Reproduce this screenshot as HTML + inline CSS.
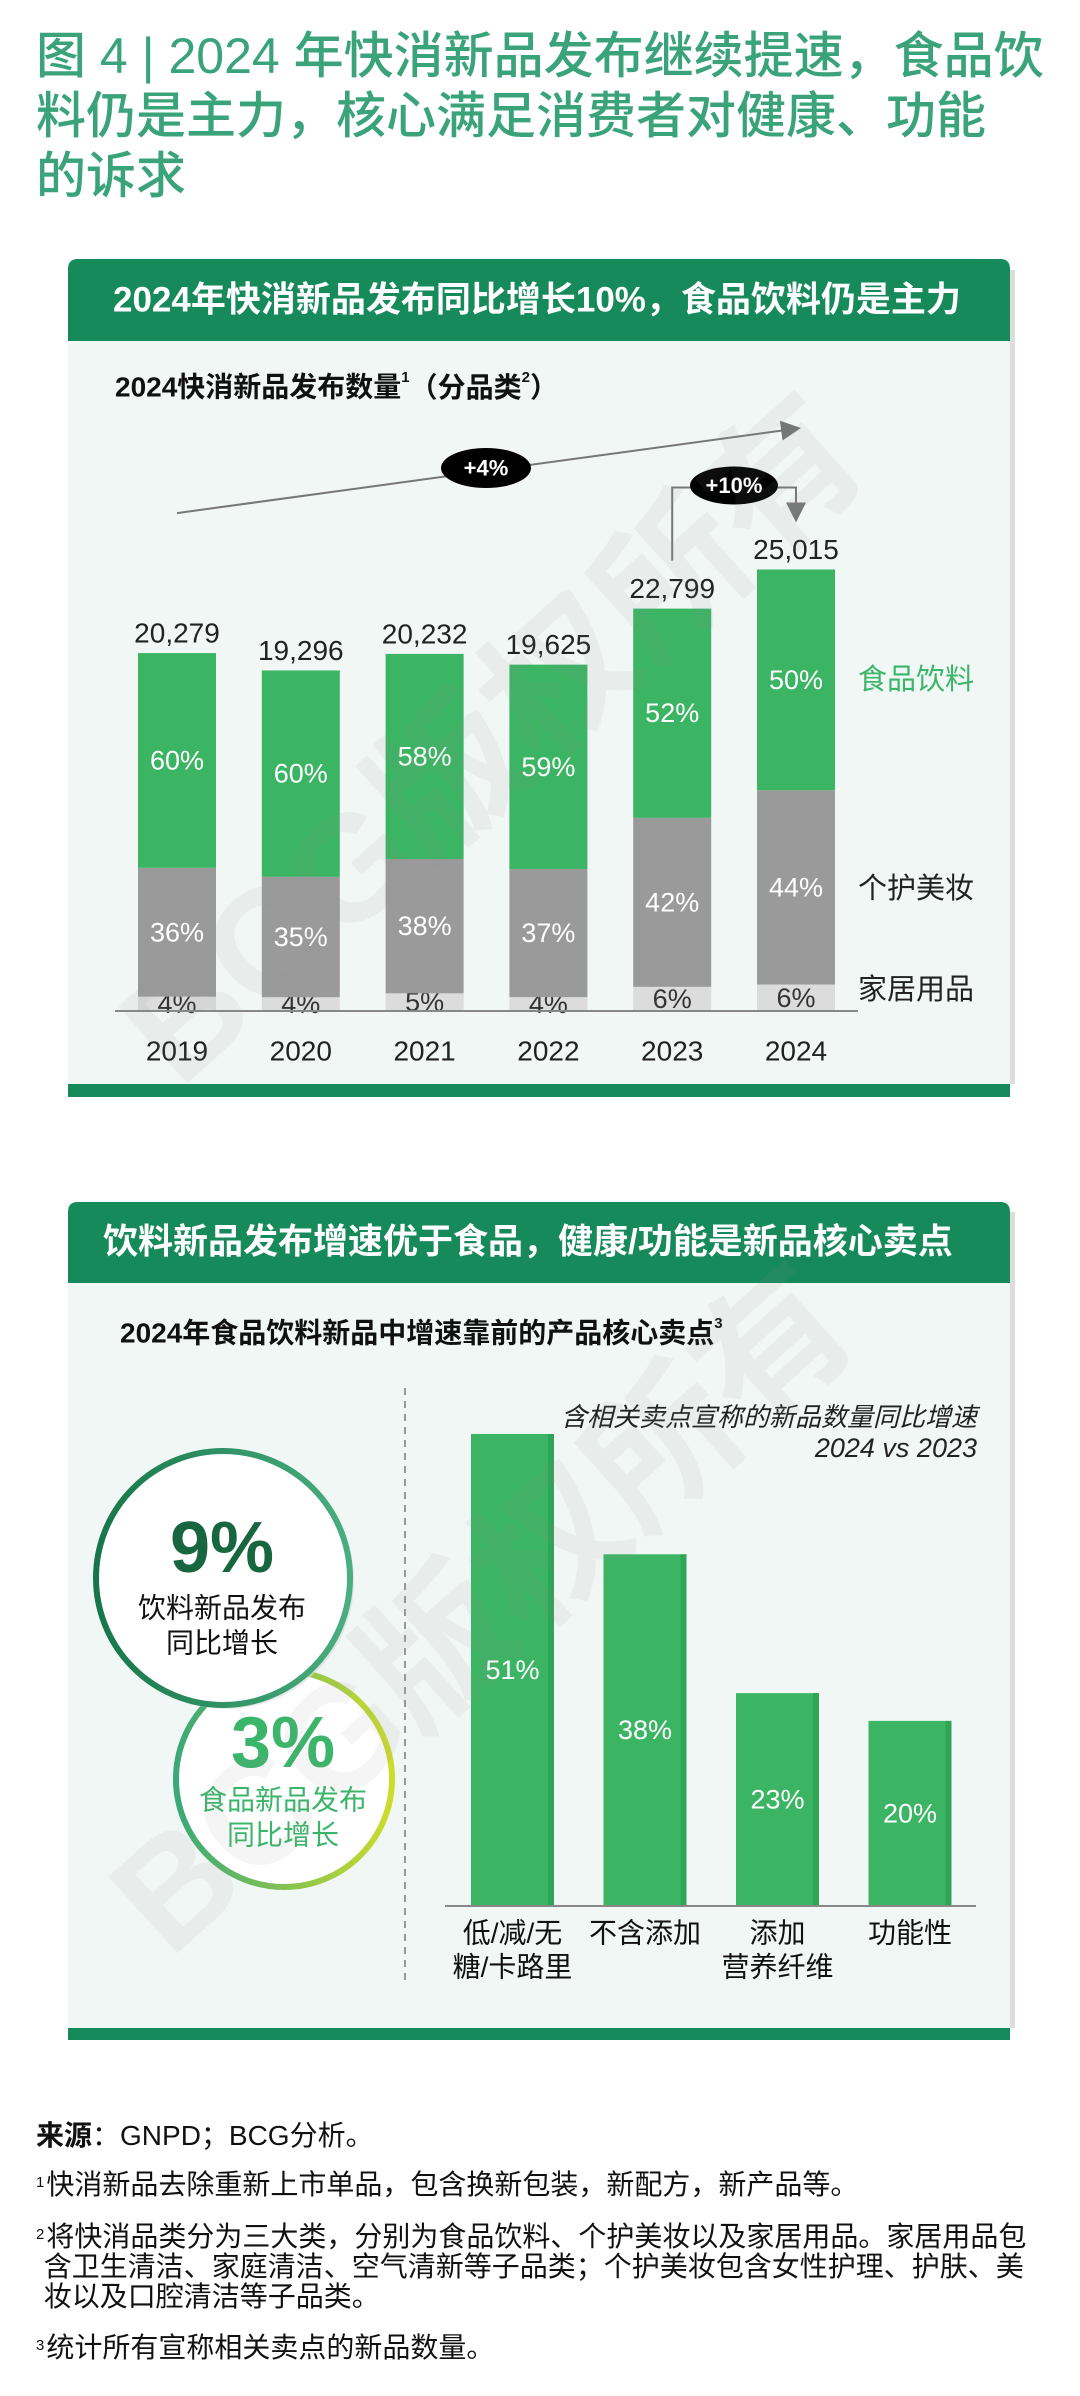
<!DOCTYPE html>
<html><head><meta charset="utf-8">
<style>
body{margin:0;width:1080px;height:2396px;background:#fff;position:relative;overflow:hidden;font-family:"Liberation Sans","Noto Sans CJK SC",sans-serif;}
.t{position:absolute;white-space:nowrap;}
#title{left:36px;top:26px;font-size:50px;line-height:60px;color:#3aa37a;font-weight:500;}
.fn{position:absolute;left:36px;font-size:28px;color:#111;white-space:nowrap;line-height:30px;}
.fn sup{font-size:15px;vertical-align:top;position:relative;top:-2px;margin-right:2px;}
svg text{font-family:"Liberation Sans","Noto Sans CJK SC",sans-serif;}
</style></head><body>
<div id="title" class="t">图 4 | 2024 年快消新品发布继续提速，食品饮<br>料仍是主力，核心满足消费者对健康、功能<br>的诉求</div>

<svg id="chart" width="1080" height="2396" style="position:absolute;left:0;top:0">
<defs>
<linearGradient id="g9" x1="0" y1="0" x2="1" y2="0"><stop offset="0" stop-color="#16764a"/><stop offset="1" stop-color="#4aae80"/></linearGradient>
<linearGradient id="g3" x1="0" y1="0" x2="1" y2="0"><stop offset="0" stop-color="#3aa878"/><stop offset="1" stop-color="#cddc2c"/></linearGradient>
<marker id="ah" markerWidth="10" markerHeight="10" refX="8" refY="5" orient="auto"><path d="M0,0 L10,5 L0,10 z" fill="#777"/></marker>
</defs>
<g>
<rect x="68" y="259" width="942" height="838" fill="#f1f7f4"/>
<rect x="1010" y="270" width="5" height="814" fill="#dcdcdc"/>
<path d="M68,341 L68,269 Q68,259 78,259 L1000,259 Q1010,259 1010,269 L1010,341 Z" fill="#178a5c"/>
<rect x="68" y="1084" width="942" height="13" fill="#178a5c"/>
<text x="113" y="300" font-size="35" font-weight="bold" fill="#fff" dominant-baseline="central">2024年快消新品发布同比增长10%，食品饮料仍是主力</text>
<text x="115" y="387" font-size="28" font-weight="bold" fill="#111" dominant-baseline="central">2024快消新品发布数量<tspan font-size="15" dy="-10">1</tspan><tspan dy="10">（分品类</tspan><tspan font-size="15" dy="-10">2</tspan><tspan dy="10">）</tspan></text>
</g>
<g>
<rect x="68" y="1202" width="942" height="838" fill="#f1f7f4"/>
<rect x="1010" y="1212" width="5" height="816" fill="#dcdcdc"/>
<path d="M68,1283 L68,1212 Q68,1202 78,1202 L1000,1202 Q1010,1202 1010,1212 L1010,1283 Z" fill="#178a5c"/>
<rect x="68" y="2028" width="942" height="12" fill="#178a5c"/>
<text x="103" y="1242" font-size="35" font-weight="bold" fill="#fff" dominant-baseline="central">饮料新品发布增速优于食品，健康/功能是新品核心卖点</text>
<text x="120" y="1333" font-size="28" font-weight="bold" fill="#111" dominant-baseline="central">2024年食品饮料新品中增速靠前的产品核心卖点<tspan font-size="15" dy="-10">3</tspan></text>
<line x1="405" y1="1388" x2="405" y2="1985" stroke="#999" stroke-width="2" stroke-dasharray="7,6"/>
<text x="977" y="1417" font-size="26" font-style="italic" fill="#222" text-anchor="end" dominant-baseline="central">含相关卖点宣称的新品数量同比增速</text>
<text x="977" y="1448" font-size="27" font-style="italic" fill="#222" text-anchor="end" dominant-baseline="central">2024 vs 2023</text>
<circle cx="284" cy="1779" r="108" fill="#fff" stroke="url(#g3)" stroke-width="6"/>
<circle cx="226" cy="1581" r="128" fill="#d8d8d8" opacity="0.6"/>
<circle cx="223" cy="1578" r="127" fill="#fff" stroke="url(#g9)" stroke-width="6"/>
<text x="222" y="1548" font-size="72" font-weight="bold" fill="#17663f" text-anchor="middle" dominant-baseline="central">9%</text>
<text x="222" y="1608" font-size="28" fill="#111" text-anchor="middle" dominant-baseline="central">饮料新品发布</text>
<text x="222" y="1643" font-size="28" fill="#111" text-anchor="middle" dominant-baseline="central">同比增长</text>
<text x="283" y="1743" font-size="72" font-weight="bold" fill="#3bb56a" text-anchor="middle" dominant-baseline="central">3%</text>
<text x="283" y="1800" font-size="28" fill="#3bb56a" text-anchor="middle" dominant-baseline="central">食品新品发布</text>
<text x="283" y="1835" font-size="28" fill="#3bb56a" text-anchor="middle" dominant-baseline="central">同比增长</text>
</g>
<g id="c1"></g>
<g id="c2"></g>
<g fill="rgba(140,140,140,0.09)" font-size="150" font-weight="bold">
<text x="0" y="0" transform="translate(180,1090) rotate(-42)">BCG版权所有</text>
<text x="0" y="0" transform="translate(170,1960) rotate(-42)">BCG版权所有</text>
</g>
</svg>

<div class="fn" style="top:2121px"><b>来源</b>：GNPD；BCG分析。</div>
<div class="fn" style="top:2170px"><sup>1</sup>快消新品去除重新上市单品，包含换新包装，新配方，新产品等。</div>
<div class="fn" style="top:2222px"><sup>2</sup>将快消品类分为三大类，分别为食品饮料、个护美妆以及家居用品。家居用品包<br>&nbsp;含卫生清洁、家庭清洁、空气清新等子品类；个护美妆包含女性护理、护肤、美<br>&nbsp;妆以及口腔清洁等子品类。</div>
<div class="fn" style="top:2333px"><sup>3</sup>统计所有宣称相关卖点的新品数量。</div>

<script>
const years = ["2019","2020","2021","2022","2023","2024"];
const totals = [20279,19296,20232,19625,22799,25015];
const totalLabels = ["20,279","19,296","20,232","19,625","22,799","25,015"];
const foodPct = [60,60,58,59,52,50];
const carePct = [36,35,38,37,42,44];
const homePct = [4,4,5,4,6,6];
const claims = [["低/减/无","糖/卡路里"],["不含添加"],["添加","营养纤维"],["功能性"]];
const claimGrowth = [51,38,23,20];

const NS="http://www.w3.org/2000/svg";
function mk(tag,attrs,parent){const e=document.createElementNS(NS,tag);for(const k in attrs)e.setAttribute(k,attrs[k]);parent.appendChild(e);return e;}
function txt(parent,x,y,s,size,fill,extra){const e=mk('text',Object.assign({x:x,y:y,'font-size':size,fill:fill,'text-anchor':'middle','dominant-baseline':'central'},extra||{}),parent);e.textContent=s;return e;}

const c1=document.getElementById('c1');
const x1=i=>177+i*123.8, y1=v=>1011-v*0.01765, bw1=78;
years.forEach((yr,i)=>{
  const cx=x1(i), tot=totals[i], top=y1(tot), h=1011-top;
  const segs=[[homePct[i],'#dcdcdc','#333','home'],[carePct[i],'#9a9a9a','#fff','care'],[foodPct[i],'#3bb563','#fff','food']];
  let base=1011;
  const sum=homePct[i]+carePct[i]+foodPct[i];
  segs.forEach(s=>{
    const sh=h*s[0]/sum;
    const r=mk('rect',{x:cx-bw1/2,y:base-sh,width:bw1,height:sh,fill:s[1]},c1);
    
    
    const t=txt(c1,cx,base-sh/2,s[0]+'%',27,s[2]);
    
    
    base-=sh;
  });
  const v=txt(c1,cx,top-20,totalLabels[i],28,'#222');
  
  
  const yl=txt(c1,cx,1051,yr,28,'#222');
  
  
});
const ax1=mk('line',{x1:115,y1:1011,x2:858,y2:1011,stroke:'#888','stroke-width':2},c1);


[['食品饮料',680,'#3bb56a','legend-food'],['个护美妆',889,'#222','legend-care'],['家居用品',990,'#222','legend-home']].forEach(l=>{
  const t=txt(c1,858,l[1],l[0],29,l[2],{'text-anchor':'start'});
  
  
});
const a=mk('line',{x1:x1(0),y1:y1(totals[0])-140,x2:x1(5)+1,y2:y1(totals[5])-141,stroke:'#777','stroke-width':2,'marker-end':'url(#ah)'},c1);


const e1=mk('ellipse',{cx:486,cy:468,rx:45,ry:20,fill:'#000'},c1);


const et=txt(c1,486,468,'+4%',22,'#fff',{'font-weight':'bold'});


const yStart=y1(totals[4])-48, yMid=y1(totals[5])-82, yEnd=y1(totals[5])-51;
const p=mk('path',{d:`M${x1(4)},${yStart} L${x1(4)},${yMid} L${x1(5)},${yMid} L${x1(5)},${yEnd}`,fill:'none',stroke:'#777','stroke-width':2,'marker-end':'url(#ah)'},c1);


const e2=mk('ellipse',{cx:734,cy:yMid-2,rx:44,ry:19,fill:'#000'},c1);


const e2t=txt(c1,734,yMid-2,'+10%',22,'#fff',{'font-weight':'bold'});



const c2=document.getElementById('c2');
const x2=i=>512.5+i*132.5, y2=v=>1906-v*9.255, bw2=83;
claims.forEach((c,i)=>{
  const cx=x2(i), top=y2(claimGrowth[i]);
  const r=mk('rect',{x:cx-bw2/2,y:top,width:bw2,height:1906-top,fill:'#3bb563'},c2);
  
  
  const sd=mk('rect',{x:cx+bw2/2-6,y:top,width:6,height:1906-top,fill:'#30a457'},c2);
  
  
  const t=txt(c2,cx,(top+1906)/2,claimGrowth[i]+'%',27,'#fff');
  
  
  c.forEach((ln,j)=>{
    const l=txt(c2,cx,1933+j*34,ln,28,'#111');
    
    
  });
});
const ax2=mk('line',{x1:445,y1:1906,x2:976,y2:1906,stroke:'#888','stroke-width':2},c2);


</script>
</body></html>
